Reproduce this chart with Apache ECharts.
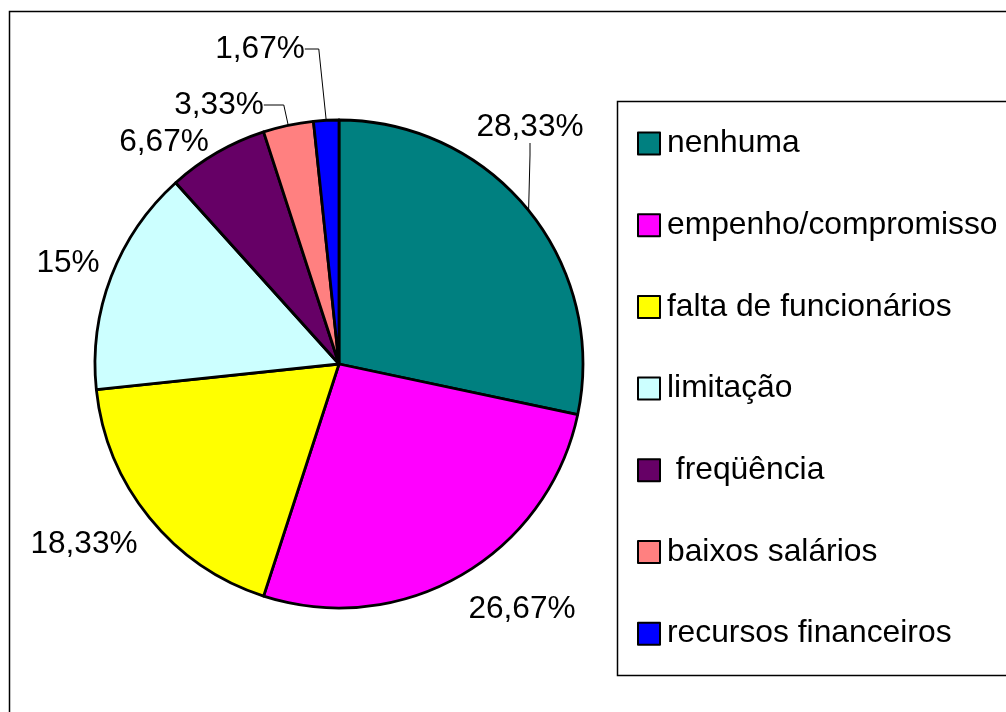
<!DOCTYPE html>
<html>
<head>
<meta charset="utf-8">
<script src="https://cdn.jsdelivr.net/npm/echarts@6/dist/echarts.min.js"></script>
<style>
  html, body { margin: 0; padding: 0; background: #fff; }
  #pieChart { width: 1006px; height: 712px; }
</style>
</head>
<body>
<div id="pieChart"></div>
<script>
// categorias e percentuais
const categories = ['nenhuma', 'empenho/compromisso', 'falta de funcionários', 'limitação', ' freqüência', 'baixos salários', 'recursos financeiros']
const values = [28.33, 26.67, 18.33, 15, 6.67, 3.33, 1.67]
const colors = ['#008080', '#ff00ff', '#ffff00', '#ccffff', '#660066', '#ff8080', '#0000ff']

// onde fica o rótulo de cada fatia (centro do texto, em px)
const labelPos = [[530, 127], [522, 609], [84, 544], [68, 263], [164, 142], [219, 105], [260, 49]]
const withLine = [true, false, false, false, false, true, true]
const lineLen2 = [12, 0, 0, 0, 0, 20, 14]

const font = 'Liberation Sans, Arial, sans-serif'

const myChart = echarts.init(document.getElementById('pieChart'))

const options = {
  animation: false,
  color: colors,
  graphic: [
    // moldura externa
    {
      type: 'rect',
      shape: { x: 9.5, y: 11.5, width: 1100, height: 800 },
      style: { fill: 'none', stroke: '#000', lineWidth: 1.5 },
      silent: true
    },
    // caixa da legenda
    {
      type: 'rect',
      shape: { x: 617.5, y: 101.5, width: 500, height: 574 },
      style: { fill: 'none', stroke: '#000', lineWidth: 1.5 },
      silent: true
    }
  ],
  legend: {
    orient: 'vertical',
    left: 637,
    top: 125.5,
    padding: 0,
    itemGap: 45.7,
    itemWidth: 22,
    itemHeight: 22,
    icon: 'rect',
    selectedMode: false,
    itemStyle: { borderColor: '#000', borderWidth: 2 },
    textStyle: { fontFamily: font, fontSize: 31.8, lineHeight: 32, padding: [4, 0, 0, 2], color: '#000' },
    data: categories
  },
  series: [{
    type: 'pie',
    center: [339, 364],
    radius: 244,
    startAngle: 90,
    clockwise: true,
    avoidLabelOverlap: false,
    silent: true,
    emphasis: { disabled: true },
    itemStyle: { borderColor: '#000', borderWidth: 2.8 },
    label: {
      show: true,
      position: 'outside',
      fontFamily: font,
      fontSize: 31.6,
      color: '#000',
      formatter: p => String(p.value).replace('.', ',') + '%'
    },
    labelLine: { show: false, lineStyle: { color: '#000', width: 1 } },
    labelLayout: p => ({
      x: labelPos[p.dataIndex][0],
      y: labelPos[p.dataIndex][1],
      align: 'center',
      verticalAlign: 'middle'
    }),
    data: categories.map((name, i) => ({
      name: name,
      value: values[i],
      labelLine: { show: withLine[i], length: 10, length2: lineLen2[i], smooth: false }
    }))
  }]
}

myChart.setOption(options)
</script>
</body>
</html>
